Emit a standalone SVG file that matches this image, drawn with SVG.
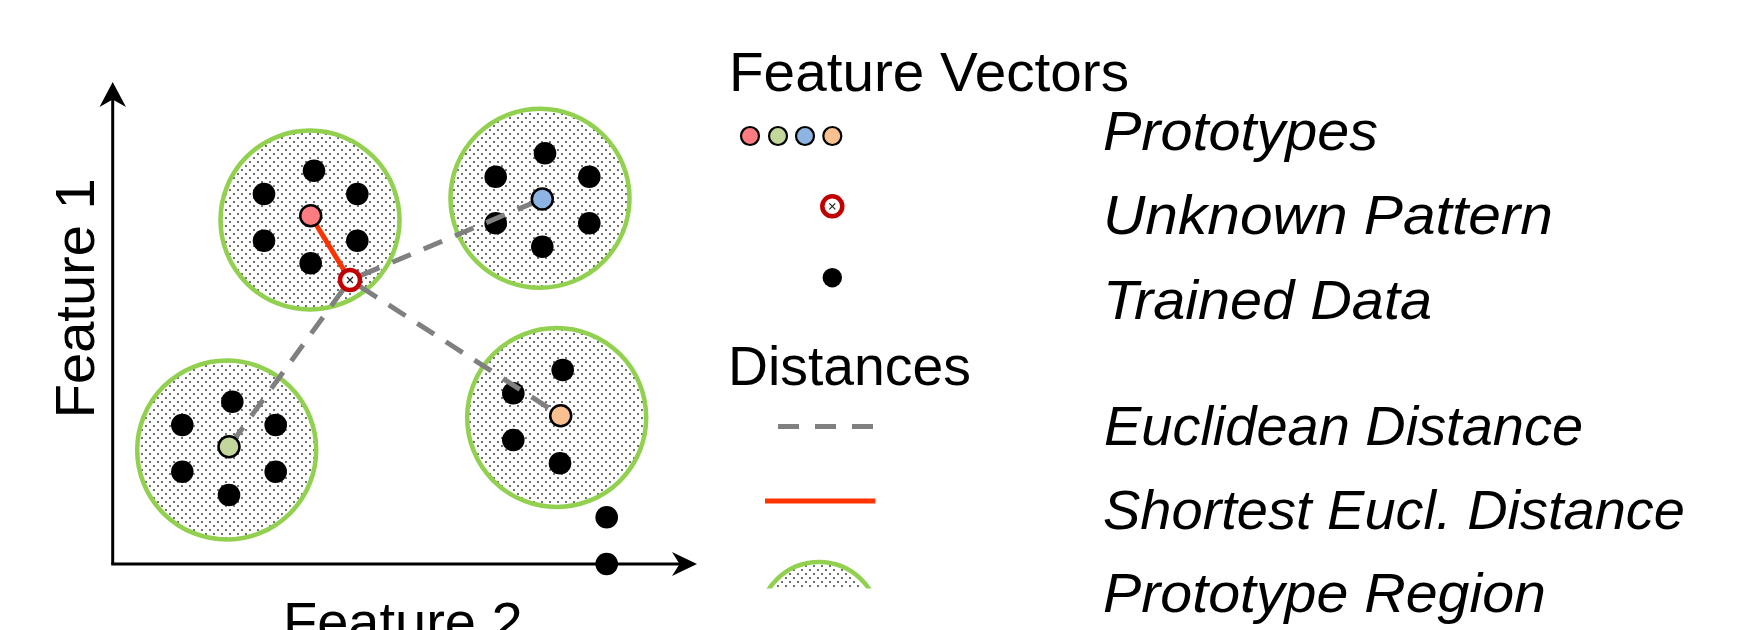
<svg xmlns="http://www.w3.org/2000/svg" width="1754" height="630" viewBox="0 0 1754 630">
<style>
.txt{font-family:"Liberation Sans",Arial,sans-serif;font-size:56px;fill:#000}
.it{font-style:italic}
.region{fill:url(#dots);stroke:#92D050;stroke-width:4.5}
.dot{fill:#000}
.proto{stroke:#000;stroke-width:2.5}
.axis{stroke:#000;stroke-width:3;fill:none}
.dash{stroke:#808080;stroke-width:5;stroke-dasharray:20 14;fill:none}
.short{stroke:#FF3300;stroke-width:5;fill:none}
.unk{fill:#fff;stroke:#C00000;stroke-width:4.5}
.cross{stroke:#222;stroke-width:1.2}
</style>
<defs>
<pattern id="dots" width="8" height="8" patternUnits="userSpaceOnUse">
<rect width="8" height="8" fill="#fff"/>
<circle cx="2" cy="2" r="0.95" fill="#333"/>
<circle cx="6" cy="6" r="0.95" fill="#333"/>
</pattern>
<clipPath id="legclip"><rect x="740" y="540" width="160" height="48.5"/></clipPath>
</defs>
<rect width="1754" height="630" fill="#fff"/>

<g id="axes">
<line class="axis" x1="112.7" y1="564" x2="112.7" y2="95"/>
<line class="axis" x1="111.2" y1="564" x2="685" y2="564"/>
<path d="M112.7 82 L126 107 L112.7 99.5 L99.5 107 Z" fill="#000"/>
<path d="M697 564 L672 576 L679.5 564 L672 552 Z" fill="#000"/>
</g>
<text id="feature1" class="txt" transform="translate(93.5 298.3) rotate(-90)" text-anchor="middle">Feature 1</text>
<text id="feature2" class="txt" x="283" y="641">Feature 2</text>

<g id="region-red">
<circle class="region" cx="310" cy="220" r="89.5"/>
<circle class="dot" cx="314" cy="170.7" r="11.3"/>
<circle class="dot" cx="264" cy="194" r="11.3"/>
<circle class="dot" cx="357.3" cy="194" r="11.3"/>
<circle class="dot" cx="264" cy="240.7" r="11.3"/>
<circle class="dot" cx="357.3" cy="240.7" r="11.3"/>
<circle class="dot" cx="310.7" cy="263.3" r="11.3"/>
</g>
<g id="region-blue">
<circle class="region" cx="540" cy="198.3" r="89.5"/>
<circle class="dot" cx="545" cy="153.3" r="11.3"/>
<circle class="dot" cx="495.7" cy="176.7" r="11.3"/>
<circle class="dot" cx="589.3" cy="176.7" r="11.3"/>
<circle class="dot" cx="495.7" cy="223.3" r="11.3"/>
<circle class="dot" cx="589.3" cy="223.3" r="11.3"/>
<circle class="dot" cx="542.3" cy="246.7" r="11.3"/>
</g>
<g id="region-green">
<circle class="region" cx="226.7" cy="450" r="89.5"/>
<circle class="dot" cx="232.3" cy="401.7" r="11.3"/>
<circle class="dot" cx="182.3" cy="425" r="11.3"/>
<circle class="dot" cx="275.7" cy="425" r="11.3"/>
<circle class="dot" cx="182.3" cy="471.7" r="11.3"/>
<circle class="dot" cx="275.7" cy="471.7" r="11.3"/>
<circle class="dot" cx="229" cy="495" r="11.3"/>
</g>
<g id="region-orange">
<circle class="region" cx="556.7" cy="417.5" r="89.5"/>
<circle class="dot" cx="562.7" cy="370" r="11.3"/>
<circle class="dot" cx="513.3" cy="393.3" r="11.3"/>
<circle class="dot" cx="513.3" cy="440" r="11.3"/>
<circle class="dot" cx="560" cy="463.3" r="11.3"/>
</g>
<g id="extra-data">
<circle class="dot" cx="606.7" cy="517.3" r="11.3"/>
<circle class="dot" cx="606.7" cy="564" r="11.3"/>
</g>

<g id="connectors">
<line class="dash" x1="361" y1="275.4" x2="542.3" y2="199"/>
<line class="dash" x1="343" y1="289.7" x2="229" y2="446.7"/>
<line class="dash" x1="360.1" y1="286.5" x2="560.7" y2="415.7"/>
<line class="short" x1="310.7" y1="215.7" x2="350" y2="280"/>
</g>

<g id="proto-red"><circle class="proto" cx="310.7" cy="215.7" r="10.5" fill="#FF7C80"/></g>
<g id="proto-blue"><circle class="proto" cx="542.3" cy="199" r="10.5" fill="#8DB4E2"/></g>
<g id="proto-green"><circle class="proto" cx="229" cy="446.7" r="10.5" fill="#C3D69B"/></g>
<g id="proto-orange"><circle class="proto" cx="560.7" cy="415.7" r="10.5" fill="#FAC090"/></g>
<g id="unknown">
<circle class="unk" cx="350" cy="280" r="10"/>
<path class="cross" d="M347 277 L353 283 M353 277 L347 283"/>
</g>

<g id="legend-feature-vectors">
<text class="txt" x="729" y="91" textLength="400" lengthAdjust="spacingAndGlyphs">Feature Vectors</text>
</g>
<g id="legend-prototypes">
<circle cx="750" cy="136" r="9" fill="#FF7C80" stroke="#000" stroke-width="2.2"/>
<circle cx="778" cy="136" r="9" fill="#C3D69B" stroke="#000" stroke-width="2.2"/>
<circle cx="805" cy="136" r="9" fill="#8DB4E2" stroke="#000" stroke-width="2.2"/>
<circle cx="832.3" cy="136" r="9" fill="#FAC090" stroke="#000" stroke-width="2.2"/>
<text class="txt it" x="1103" y="150" textLength="275" lengthAdjust="spacingAndGlyphs">Prototypes</text>
</g>
<g id="legend-unknown">
<circle class="unk" cx="832.3" cy="206.3" r="10"/>
<path class="cross" d="M829.3 203.3 L835.3 209.3 M835.3 203.3 L829.3 209.3"/>
<text class="txt it" x="1103" y="234" textLength="450" lengthAdjust="spacingAndGlyphs">Unknown Pattern</text>
</g>
<g id="legend-trained">
<circle cx="832.3" cy="277.7" r="9.7" fill="#000"/>
<text class="txt it" x="1103" y="319" textLength="329" lengthAdjust="spacingAndGlyphs">Trained Data</text>
</g>
<g id="legend-distances">
<text class="txt" x="728" y="385" textLength="243" lengthAdjust="spacingAndGlyphs">Distances</text>
</g>
<g id="legend-euclidean">
<line x1="778" y1="426.5" x2="874.5" y2="426.5" stroke="#808080" stroke-width="5" stroke-dasharray="21 16"/>
<text class="txt it" x="1104" y="445" textLength="479" lengthAdjust="spacingAndGlyphs">Euclidean Distance</text>
</g>
<g id="legend-shortest">
<line class="short" x1="765" y1="501" x2="875.3" y2="501"/>
<text class="txt it" x="1103" y="529" textLength="582" lengthAdjust="spacingAndGlyphs">Shortest Eucl. Distance</text>
</g>
<g id="legend-region">
<g clip-path="url(#legclip)"><circle class="region" cx="819" cy="622" r="60"/></g>
<text class="txt it" x="1103" y="612" textLength="443" lengthAdjust="spacingAndGlyphs">Prototype Region</text>
</g>
</svg>
